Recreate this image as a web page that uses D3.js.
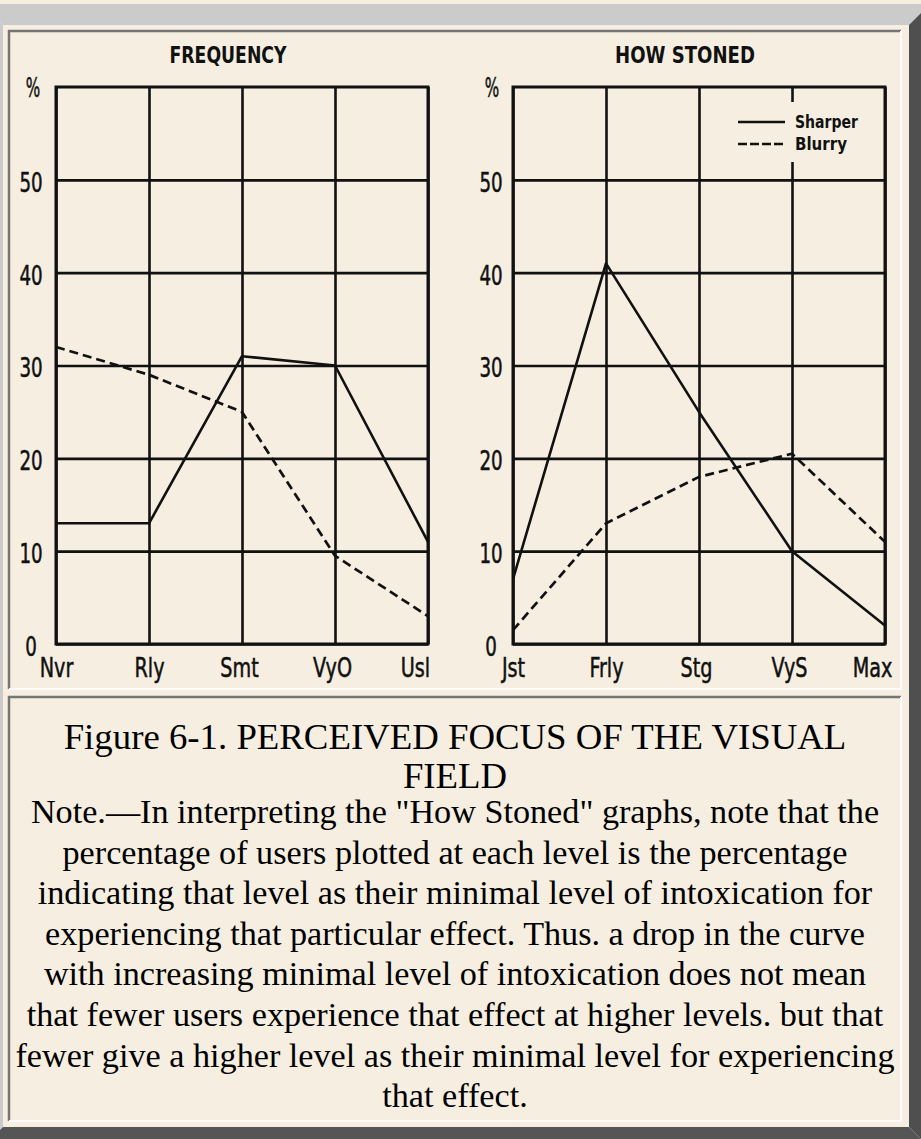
<!DOCTYPE html>
<html><head><meta charset="utf-8">
<script src="https://cdn.jsdelivr.net/npm/d3@7"></script>
<style>
html,body{margin:0;padding:0;background:#f6efe1;}
svg{display:block;}
</style></head><body>
<svg id="c" width="921" height="1139"></svg>
<script>
// ---- data ----
const freqCats = ["Nvr", "Rly", "Smt", "VyO", "Usl"];
const stonedCats = ["Jst", "Frly", "Stg", "VyS", "Max"];
const freqSharper = [13, 13, 31, 30, 11];
const freqBlurry = [32, 29, 25, 9.5, 3];
const stonedSharper = [7, 41, 25, 10, 2];
const stonedBlurry = [1.5, 13, 18, 20.5, 11];
const yTicks = [0, 10, 20, 30, 40, 50];
const panelTitles = ["FREQUENCY", "HOW STONED"];
const seriesNames = ["Sharper", "Blurry"];
const captionHeading = ["Figure 6-1. PERCEIVED FOCUS OF THE VISUAL", "FIELD"];
const captionNote = [
  "Note.\u2014In interpreting the \"How Stoned\" graphs, note that the",
  "percentage of users plotted at each level is the percentage",
  "indicating that level as their minimal level of intoxication for",
  "experiencing that particular effect. Thus. a drop in the curve",
  "with increasing minimal level of intoxication does not mean",
  "that fewer users experience that effect at higher levels. but that",
  "fewer give a higher level as their minimal level for experiencing",
  "that effect."
];

// ---- drawing ----
const W = 921, H = 1139;
const cream = "#f6efe1";
const ink = "#111111";
const chartFont = "'DejaVu Sans Condensed','DejaVu Sans',sans-serif";
const serif = "'Liberation Serif','Times New Roman',serif";
const svg = d3.select("#c");

svg.append("rect").attr("width", W).attr("height", H).attr("fill", cream);

// outer bevel border (table border)
const oL = -18, oT = 4, oR = 930, oB = 1148, iL = 3, iT = 25, iR = 909, iB = 1127;
const poly = (pts, fill) => svg.append("polygon").attr("points", pts.map(p => p.join(",")).join(" ")).attr("fill", fill);
poly([[oL, oT], [oR, oT], [iR, iT], [iL, iT]], "#cbcbcb");
poly([[oL, oT], [iL, iT], [iL, iB], [oL, oB]], "#cbcbcb");
poly([[oR, oT], [oR, oB], [iR, iB], [iR, iT]], "#4f4f4f");
poly([[oL, oB], [oR, oB], [iR, iB], [iL, iB]], "#555555");

// cells (inset borders)
function cell(x0, y0, x1, y1) {
  svg.append("path").attr("d", `M${x0},${y1} L${x0},${y0} L${x1},${y0}`)
    .attr("fill", "none").attr("stroke", "#757575").attr("stroke-width", 2.5);
  svg.append("path").attr("d", `M${x1},${y0} L${x1},${y1} L${x0},${y1}`)
    .attr("fill", "none").attr("stroke", "#fbfbfb").attr("stroke-width", 2);
}
cell(9, 31, 901, 689);
cell(9, 697, 901, 1121);

// condense a text selection horizontally (scanned type is narrow)
function condense(sel, factor) {
  sel.each(function () {
    const len = this.getComputedTextLength();
    d3.select(this).attr("textLength", len * factor).attr("lengthAdjust", "spacingAndGlyphs");
  });
}

// panels
const y = d3.scaleLinear().domain([0, 60]).range([644, 87]);
const panels = [
  {cats: freqCats, sharper: freqSharper, blurry: freqBlurry, title: panelTitles[0],
   x0: 56, x1: 428, titleX: 228, titleLen: 117, labelX: 31, pctX: 33, legend: false},
  {cats: stonedCats, sharper: stonedSharper, blurry: stonedBlurry, title: panelTitles[1],
   x0: 513, x1: 885, titleX: 685, titleLen: 140, labelX: 491, pctX: 492, legend: true}
];

panels.forEach(p => {
  const x = d3.scalePoint().domain(p.cats).range([p.x0, p.x1]);
  const g = svg.append("g");

  // horizontal gridlines + y labels
  const ya = d3.axisLeft(y).tickValues(yTicks).tickSize(-(p.x1 - p.x0)).tickFormat(d3.format("d"));
  const gy = g.append("g").attr("transform", `translate(${p.x0},0)`).call(ya);
  gy.select(".domain").remove();
  gy.selectAll(".tick line").attr("stroke", ink).attr("stroke-width", 2.6);
  const ylab = gy.selectAll(".tick text")
    .attr("x", p.labelX - p.x0).attr("dy", "0.36em").attr("y", 2)
    .attr("text-anchor", "middle")
    .attr("font-family", chartFont).attr("font-size", 26).attr("fill", ink)
    .attr("stroke", ink).attr("stroke-width", 0.5);
  condense(ylab, 0.78);

  // vertical gridlines + x labels
  const xa = d3.axisBottom(x).tickSize(-(y(0) - y(60)));
  const gx = g.append("g").attr("transform", `translate(0,${y(0)})`).call(xa);
  gx.select(".domain").remove();
  gx.selectAll(".tick line").attr("stroke", ink).attr("stroke-width", 2.6);
  const xlab = gx.selectAll(".tick text")
    .attr("y", 33).attr("dy", 0)
    .attr("dx", (d, i) => i === p.cats.length - 1 ? -13 : (i >= 2 ? -3 : 0))
    .attr("font-family", chartFont).attr("font-size", 26).attr("fill", ink)
    .attr("stroke", ink).attr("stroke-width", 0.5);
  condense(xlab, 0.82);

  // frame
  g.append("rect").attr("x", p.x0).attr("y", y(60)).attr("width", p.x1 - p.x0).attr("height", y(0) - y(60))
    .attr("fill", "none").attr("stroke", ink).attr("stroke-width", 3);

  // title and % sign
  g.append("text").attr("x", p.titleX).attr("y", 63).attr("text-anchor", "middle")
    .attr("font-family", chartFont).attr("font-weight", "bold").attr("font-size", 23)
    .attr("textLength", p.titleLen).attr("lengthAdjust", "spacingAndGlyphs")
    .attr("fill", ink).text(p.title);
  const pct = g.append("text").attr("x", p.pctX).attr("y", 97).attr("text-anchor", "middle")
    .attr("font-family", chartFont).attr("font-size", 26).attr("fill", ink)
    .attr("stroke", ink).attr("stroke-width", 0.5).text("%");
  condense(pct, 0.65);

  // legend
  if (p.legend) {
    g.append("rect").attr("x", 734).attr("y", 102).attr("width", 130).attr("height", 60).attr("fill", cream);
    const lg = [[122, null, seriesNames[0], 63], [144, "9,3", seriesNames[1], 52]];
    lg.forEach(([ly, dash, name, len]) => {
      g.append("line").attr("x1", 738).attr("x2", 785).attr("y1", ly).attr("y2", ly)
        .attr("stroke", ink).attr("stroke-width", 2.6).attr("stroke-dasharray", dash);
      g.append("text").attr("x", 795).attr("y", ly + 6)
        .attr("font-family", chartFont).attr("font-weight", "bold").attr("font-size", 17)
        .attr("textLength", len).attr("lengthAdjust", "spacingAndGlyphs")
        .attr("fill", ink).text(name);
    });
  }

  // data lines
  const line = d3.line().x((d, i) => x(p.cats[i])).y(d => y(d));
  g.append("path").datum(p.sharper).attr("d", line)
    .attr("fill", "none").attr("stroke", ink).attr("stroke-width", 2.6).attr("stroke-linejoin", "round");
  g.append("path").datum(p.blurry).attr("d", line)
    .attr("fill", "none").attr("stroke", ink).attr("stroke-width", 2.7).attr("stroke-dasharray", "9,5");
});

// caption
const cap = svg.append("g").attr("font-family", serif).attr("fill", "#000").attr("text-anchor", "middle");
captionHeading.forEach((t, i) => {
  cap.append("text").attr("x", 455).attr("y", 749 + i * 39).attr("font-size", 36.8).text(t);
});
captionNote.forEach((t, i) => {
  cap.append("text").attr("x", 455).attr("y", 823 + i * 40.6).attr("font-size", 34.2).text(t);
});
</script></body></html>
